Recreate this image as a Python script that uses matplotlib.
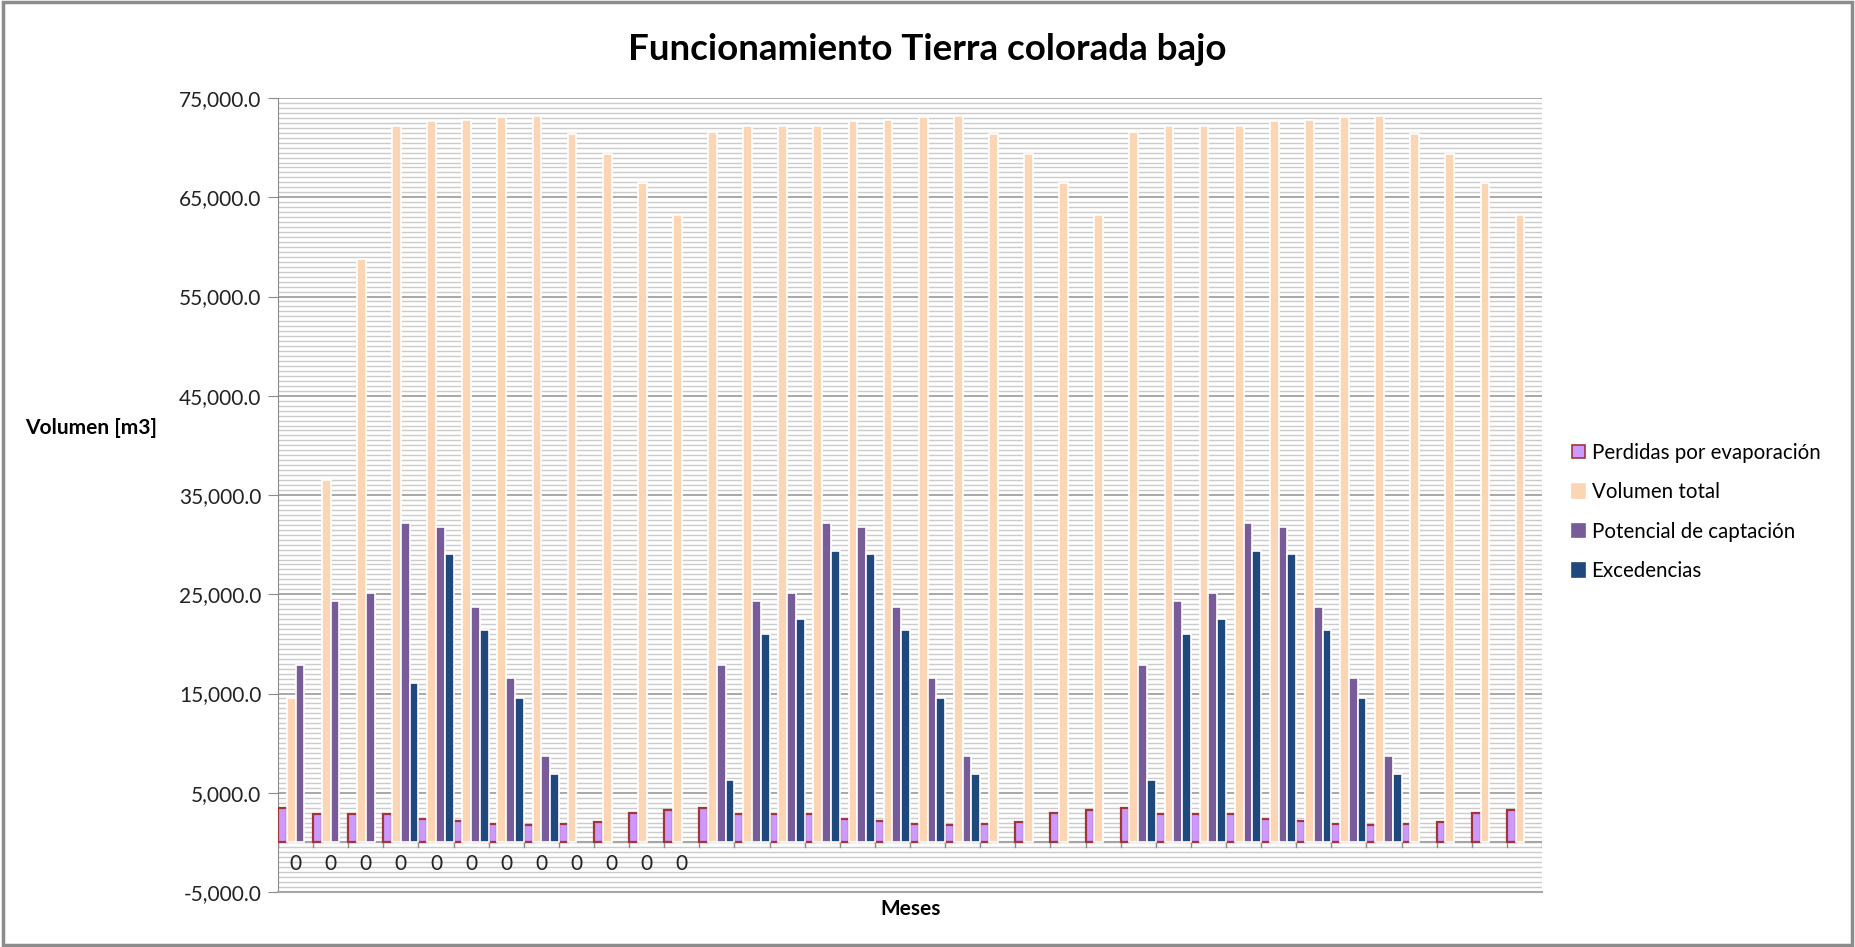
import numpy as np
import matplotlib
matplotlib.use("Agg")
import matplotlib.pyplot as plt
from matplotlib.patches import Rectangle, Patch
from matplotlib.ticker import MultipleLocator, FuncFormatter

plt.rcParams['font.family'] = ['Lato', 'DejaVu Sans']

# 3 years x 12 months, values in m3
meses = ["0"] * 12 + [""] * 24

perdidas = [3430, 2820, 2820, 2820, 2320, 2180, 1840, 1710, 1840, 2050, 2920, 3220,
            3490, 2820, 2820, 2820, 2320, 2180, 1840, 1710, 1840, 2050, 2920, 3220,
            3490, 2820, 2820, 2820, 2320, 2180, 1840, 1710, 1840, 2050, 2920, 3220]

volumen_total = [14580, 36500, 58800, 72200, 72640, 72740, 73080, 73150, 71330, 69320, 66430, 63200,
                 71570, 72200, 72200, 72200, 72640, 72740, 73080, 73150, 71330, 69320, 66430, 63200,
                 71570, 72200, 72200, 72200, 72640, 72740, 73080, 73150, 71330, 69320, 66430, 63200]

potencial = [17890, 24320, 25160, 32150, 31820, 23750, 16590, 8700, 0, 0, 0, 0,
             17890, 24320, 25160, 32150, 31820, 23750, 16590, 8700, 0, 0, 0, 0,
             17890, 24320, 25160, 32150, 31820, 23750, 16590, 8700, 0, 0, 0, 0]

excedencias = [0, 0, 0, 16060, 29030, 21400, 14550, 6890, 0, 0, 0, 0,
               6320, 21000, 22510, 29370, 29030, 21400, 14550, 6890, 0, 0, 0, 0,
               6320, 21000, 22510, 29370, 29030, 21400, 14550, 6890, 0, 0, 0, 0]

series = [
    ("Perdidas por evaporación", perdidas, "#cc99ff", "#a0363a"),
    ("Volumen total", volumen_total, "#fcd5b5", "white"),
    ("Potencial de captación", potencial, "#775c99", "white"),
    ("Excedencias", excedencias, "#1f497d", "white"),
]

W, H = 1855, 947
fig = plt.figure(figsize=(W / 100, H / 100), dpi=100)
ax = fig.add_axes([278 / W, 1 - 892 / H, (1542 - 278) / W, (892 - 98) / H])

n = len(meses)
x = np.arange(n)
bw = 0.25

# grid lines (dense minor + major)
ax.set_ylim(-5000, 75000)
ax.set_xlim(0, n)
ax.set_yticks(np.arange(-5000, 75001, 10000))
ax.yaxis.set_minor_locator(MultipleLocator(500))
ax.grid(axis='y', which='minor', color='#cbcbcb', lw=1.0)
ax.grid(axis='y', which='major', color='#9a9a9a', lw=1.2)
ax.set_axisbelow(True)

for i, (name, vals, fc, ec) in enumerate(series):
    vals = np.array(vals, dtype=float)
    m = vals > 0
    lw = 1.6 if i == 0 else 1.2
    ax.bar(x[m] + bw * i, vals[m], width=bw, align='edge', color=fc,
           edgecolor=ec, linewidth=lw, zorder=3)

# category axis at zero with separators
ax.axhline(0, color='#a6a6a6', lw=1.5, zorder=2)
for k in range(n + 1):
    ax.plot([k, k], [0, -450], color='#8a8a8a', lw=1, zorder=2)
for k, lab in enumerate(meses):
    if lab:
        ax.text(k + 0.5, -2200, lab, ha='center', va='center', fontsize=15, color='#222222')

ax.yaxis.set_major_formatter(FuncFormatter(lambda v, p: f"{v:,.1f}"))
ax.tick_params(axis='y', which='major', length=7, color='#8a8a8a', labelsize=15,
               labelcolor='#222222', pad=5)
ax.tick_params(axis='y', which='minor', length=0)
ax.set_xticks([])
for s in ['top', 'right']:
    ax.spines[s].set_visible(False)
ax.spines['left'].set_color('#8a8a8a')
ax.spines['bottom'].set_color('#a6a6a6')
ax.spines['bottom'].set_linewidth(1.5)

fig.text(0.4997, 1 - 50 / H, "Funcionamiento Tierra colorada bajo", ha='center', va='center',
         fontsize=26.5, fontweight='bold')
fig.text(91 / W, 1 - 428 / H, "Volumen [m3]", ha='center', va='center', fontsize=15,
         fontweight='bold')
fig.text(911 / W, 1 - 909 / H, "Meses", ha='center', va='center', fontsize=15,
         fontweight='bold')

handles = [Patch(facecolor=fc, edgecolor=(ec if i == 0 else fc), linewidth=1.2)
           for i, (name, vals, fc, ec) in enumerate(series)]
fig.legend(handles, [s[0] for s in series], loc='center left',
           bbox_to_anchor=(1572 / W, 1 - 512 / H), frameon=False, fontsize=14.8,
           handlelength=0.65, handleheight=0.65, handletextpad=0.3, labelspacing=0.95,
           borderpad=0, borderaxespad=0)

fig.add_artist(Rectangle((0.0015, 0.002), 0.997, 0.996, transform=fig.transFigure,
                         fill=False, edgecolor='#8c8c8c', lw=2.5))

fig.savefig("out.png", dpi=100)
